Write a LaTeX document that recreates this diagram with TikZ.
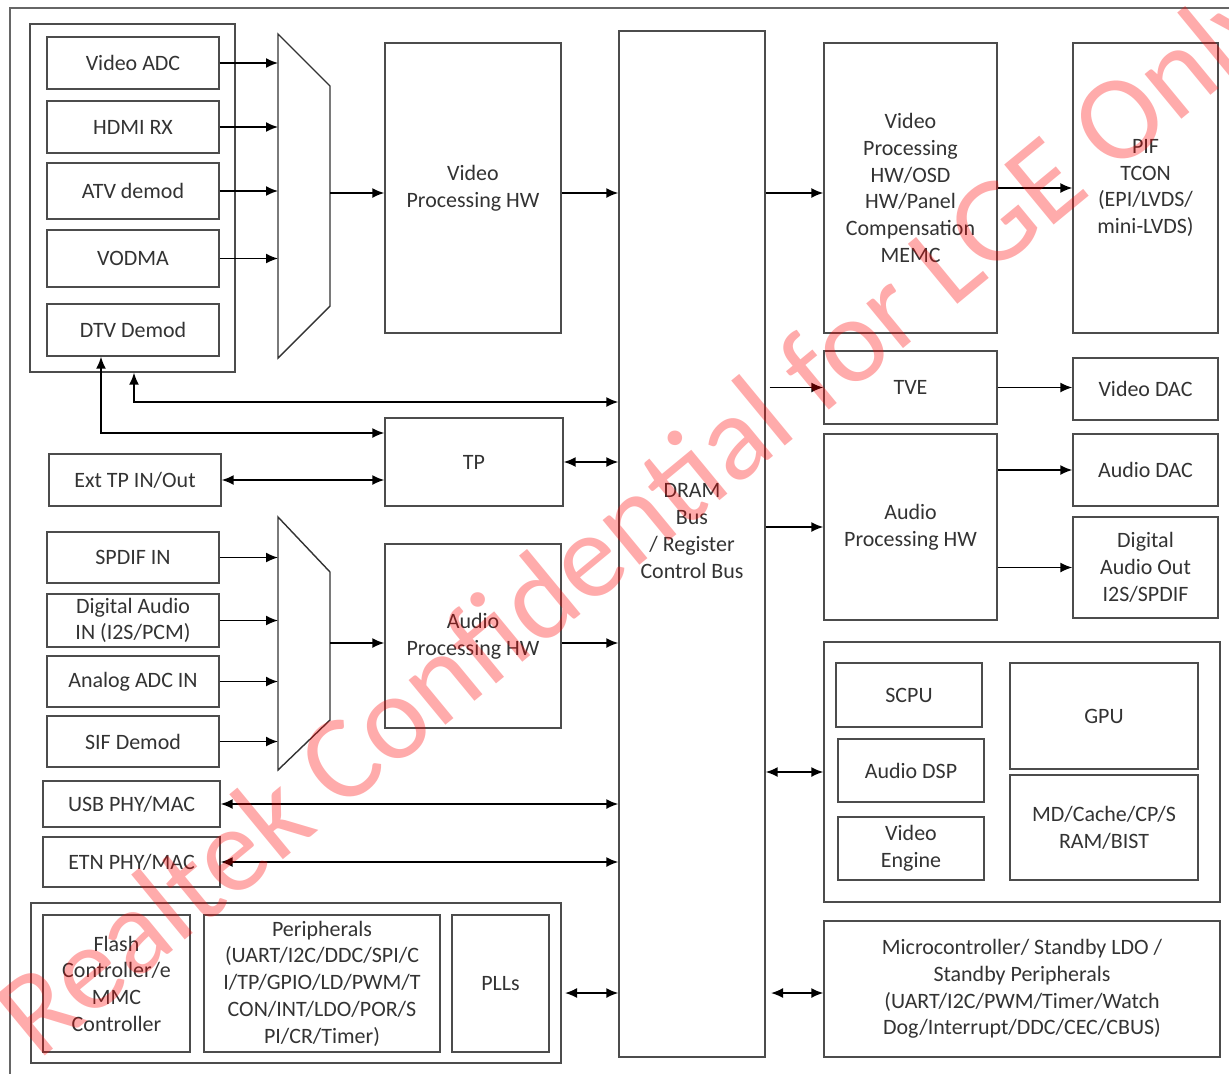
\documentclass[tikz,border=0pt]{standalone}
\usepackage{fontspec}
\setmainfont{Carlito}
\usetikzlibrary{positioning,arrows.meta,calc}

\begin{document}
\begin{tikzpicture}[
  x=0.02cm, y=-0.02cm,
  blk/.style={draw=black!70, line width=0.8pt, align=center, inner sep=1pt,
              text=black!80, font=\fontsize{12.5}{15.2}\selectfont},
  grp/.style={draw=black!70, line width=0.8pt, inner sep=0pt},
  sz/.style 2 args={minimum width=#1*0.02cm, minimum height=#2*0.02cm},
  arr/.style={-{Latex[length=2.4mm,width=2mm]}, line width=0.9pt, black},
  dbl/.style={{Latex[length=2.4mm,width=2mm]}-{Latex[length=2.4mm,width=2mm]},
              line width=0.9pt, black},
  mux/.style={draw=black!80, line width=0.8pt}
]
  \useasboundingbox (0,0) rectangle (1229,1073);
  % Frame
  \draw[black!60, line width=0.8pt] (1240,8) -- (10,8) -- (10,1080);

  % Video inputs
  \node[grp, sz={205}{348}] (vin) at (132.5,198) {};
  \node[blk, sz={172}{52}] (vadc) at (133,63) {Video ADC};
  \node[blk, sz={172}{52}] (hdmi) at (133,127) {HDMI RX};
  \node[blk, sz={172}{56}] (atv) at (133,191) {ATV demod};
  \node[blk, sz={172}{57}] (vodma) at (133,258.5) {VODMA};
  \node[blk, sz={172}{52}] (dtv) at (133,330) {DTV Demod};

  % Video mux
  \coordinate (vmux nw) at (278,34);
  \coordinate (vmux out) at (330,193);
  \draw[mux] (vmux nw) -- (330,86) -- (330,306) -- (278,358) -- cycle;

  % Processing and bus
  \node[blk, sz={176}{290}] (vproc) at (473,188) {Video\\Processing HW};
  \node[blk, sz={146}{1026}] (dram) at (692,544) {};
  \node[blk, draw=none] (dramtxt) at (692,531) {DRAM\\Bus\\/ Register\\Control Bus};
  \node[blk, sz={178}{88}] (tp) at (474,462) {TP};
  \node[blk, sz={172}{52}] (exttp) at (135,480) {Ext TP IN/Out};

  % Audio inputs
  \node[blk, sz={172}{51}] (spdif) at (133,557.5) {SPDIF IN};
  \node[blk, sz={172}{53}] (dain) at (133,620.5) {Digital Audio\\IN (I2S/PCM)};
  \node[blk, sz={172}{51}] (aadc) at (133,681.5) {Analog ADC IN};
  \node[blk, sz={172}{51}] (sif) at (133,741.5) {SIF Demod};

  % Audio mux
  \coordinate (amux nw) at (278,517);
  \coordinate (amux out) at (330,643);
  \draw[mux] (amux nw) -- (330,572) -- (330,720) -- (278,770) -- cycle;
  \node[blk, sz={176}{184}] (aproc) at (473,636) {Audio\\Processing HW};

  % IO and peripherals
  \node[blk, sz={177}{46}] (usb) at (131.5,804) {USB PHY/MAC};
  \node[blk, sz={177}{50}] (etn) at (131.5,862) {ETN PHY/MAC};
  \node[grp, sz={530}{160}] (per) at (296,983) {};
  \node[blk, sz={147}{137}] (flash) at (116.5,983.5) {Flash\\Controller/e\\MMC\\Controller};
  \node[blk, sz={236}{137}] (peri) at (322,983.5)
    {Peripherals\\(UART/I2C/DDC/SPI/C\\I/TP/GPIO/LD/PWM/T\\CON/INT/LDO/POR/S\\PI/CR/Timer)};
  \node[blk, sz={97}{137}] (plls) at (500.5,983.5) {PLLs};

  % Outputs
  \node[blk, sz={173}{290}] (vpost) at (910.5,188)
    {Video\\Processing\\HW/OSD\\HW/Panel\\Compensation\\MEMC};
  \node[blk, sz={145}{290}] (pif) at (1145.5,188) {PIF\\TCON\\(EPI/LVDS/\\mini-LVDS)};
  \node[blk, sz={173}{73}] (tve) at (910.5,387.5) {TVE};
  \node[blk, sz={145}{62}] (vdac) at (1145.5,389) {Video DAC};
  \node[blk, sz={173}{186}] (aproc2) at (910.5,527) {Audio\\Processing HW};
  \node[blk, sz={145}{72}] (adac) at (1145.5,470) {Audio DAC};
  \node[blk, sz={145}{101}] (aout) at (1145.5,567.5) {Digital\\Audio Out\\I2S/SPDIF};

  % CPU block
  \node[grp, sz={396}{260}] (cpu) at (1022,772) {};
  \node[blk, sz={146}{64}] (scpu) at (909,695) {SCPU};
  \node[blk, sz={146}{63}] (adsp) at (911,770.5) {Audio DSP};
  \node[blk, sz={146}{63}] (veng) at (911,848.5) {Video\\Engine};
  \node[blk, sz={188}{106}] (gpu) at (1104,716) {GPU};
  \node[blk, sz={188}{105}] (mdc) at (1104,827.5) {MD/Cache/CP/S\\RAM/BIST};
  \node[blk, sz={396}{136}] (mcu) at (1022,989)
    {Microcontroller/ Standby LDO /\\Standby Peripherals\\(UART/I2C/PWM/Timer/Watch\\Dog/Interrupt/DDC/CEC/CBUS)};

  % Helper points
  \coordinate (dtvbus) at (101,433);
  \coordinate (vinbus) at (134,402);
  \coordinate (perbus) at (565,993);
  \coordinate (mcubus) at (771,993);

  % Video path
  \foreach \n in {vadc,hdmi,atv,vodma}
    \draw[arr] (\n.east) -- (\n.east -| vmux nw);
  \draw[arr] (vmux out) -- (vmux out -| vproc.west);
  \draw[arr] (vmux out -| vproc.east) -- (vmux out -| dram.west);
  \draw[arr] (vmux out -| dram.east) -- (vmux out -| vpost.west);
  \draw[arr] (vpost.east) -- (pif.west);
  \draw[dbl] (dtv.south -| dtvbus) -- (dtvbus) -- (dtvbus -| tp.west);
  \draw[dbl] (vin.south -| vinbus) -- (vinbus) -- (vinbus -| dram.west);
  \draw[dbl] (exttp.east) -- (exttp.east -| tp.west);
  \draw[dbl] (tp.east) -- (tp.east -| dram.west);
  \draw[arr] ([xshift=4*0.02cm]tve.west -| dram.east) -- (tve.west);
  \draw[arr] (tve.east) -- (tve.east -| vdac.west);

  % Audio path
  \foreach \n in {spdif,dain,aadc,sif}
    \draw[arr] (\n.east) -- (\n.east -| amux nw);
  \draw[arr] (amux out) -- (amux out -| aproc.west);
  \draw[arr] (amux out -| aproc.east) -- (amux out -| dram.west);
  \draw[arr] (aproc2.west -| dram.east) -- (aproc2.west);
  \draw[arr] (adac.west -| aproc2.east) -- (adac.west);
  \draw[arr] (aout.west -| aproc2.east) -- (aout.west);

  % Bus links
  \draw[dbl] (usb.east) -- (usb.east -| dram.west);
  \draw[dbl] (etn.east) -- (etn.east -| dram.west);
  \draw[dbl] (perbus) -- (perbus -| dram.west);
  \draw[dbl] (cpu.west -| dram.east) -- (cpu.west);
  \draw[dbl] (mcubus) -- (mcubus -| mcu.west);

  % Watermark
  \node[rotate=39.5, anchor=base west, inner sep=0pt, text=red, opacity=0.33,
        font=\fontsize{69}{72}\selectfont] (wmark) at (38,1062)
    {Realtek Confidential for LGE Only};
\end{tikzpicture}
\end{document}
